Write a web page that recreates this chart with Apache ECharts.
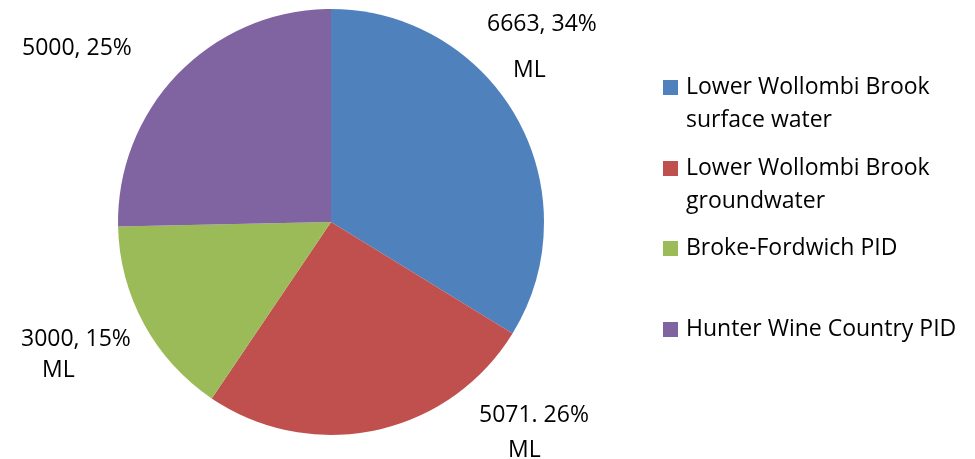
<!DOCTYPE html>
<html>
<head>
<meta charset="utf-8">
<script src="https://cdn.jsdelivr.net/npm/echarts@6/dist/echarts.min.js"></script>
<style>
  html, body { margin: 0; padding: 0; background: #fff; }
  #chart { width: 975px; height: 459px; }
</style>
</head>
<body>
<div id="chart"></div>
<script>
// data
const names = [
  'Lower Wollombi Brook surface water',
  'Lower Wollombi Brook groundwater',
  'Broke-Fordwich PID',
  'Hunter Wine Country PID'
];
const values = [6663, 5071, 3000, 5000];
const valueLabels = ['6663, 34%', '5071. 26%', '3000, 15%', '5000, 25%'];
const unitLabels = ['ML', 'ML', 'ML', ''];
const legendLines = [
  ['Lower Wollombi Brook', 'surface water'],
  ['Lower Wollombi Brook', 'groundwater'],
  ['Broke-Fordwich PID'],
  ['Hunter Wine Country PID']
];

const colors = ['#4F81BD', '#C0504D', '#9BBB59', '#8064A2'];
const FONT = '"Open Sans", sans-serif';
const FS = 23;

// where each slice label sits (left edge, top edge, line height, ML indent)
const labelPlace = [
  { x: 487, y: 1, lh: 46, indent: 26 },
  { x: 479, y: 398, lh: 35, indent: 29 },
  { x: 21, y: 324, lh: 31, indent: 21 },
  { x: 22, y: 35, lh: 26, indent: 0 }
];

const chart = echarts.init(document.getElementById('chart'));

// one legend per entry so each row can be placed like the original
const legendTops = [66, 147, 227, 308];
const legends = names.map((n, i) => ({
  data: [n],
  orient: 'vertical',
  left: 658,
  top: legendTops[i] - (legendLines[i].length > 1 ? 33 : 0),
  itemWidth: 15,
  itemHeight: 15,
  icon: 'rect',
  selectedMode: false,
  formatter: () => {
    const lines = legendLines[i];
    return lines.length > 1 ? '\u00a0\n' + lines.join('\n') : lines[0];
  },
  textStyle: {
    fontFamily: FONT,
    fontSize: FS,
    color: '#000',
    lineHeight: 33,
    padding: [0, 0, 0, 3]
  }
}));

const option = {
  animation: false,
  color: colors,
  legend: legends,
  series: [{
    type: 'pie',
    center: [331, 222],
    radius: 213,
    startAngle: 90,
    clockwise: true,
    silent: true,
    labelLine: { show: false },
    data: names.map((n, i) => ({
      name: n,
      value: values[i],
      label: {
        rich: {
          a: { fontFamily: FONT, fontSize: FS, color: '#000', lineHeight: labelPlace[i].lh },
          m: {
            fontFamily: FONT, fontSize: FS, color: '#000', lineHeight: labelPlace[i].lh,
            padding: [0, 0, 0, labelPlace[i].indent]
          }
        }
      }
    })),
    label: {
      show: true,
      position: 'outside',
      overflow: 'none',
      alignTo: 'none',
      formatter: p => {
        const u = unitLabels[p.dataIndex];
        return '{a|' + valueLabels[p.dataIndex] + '}' + (u ? '\n{m|' + u + '}' : '');
      }
    },
    labelLayout: p => ({
      x: labelPlace[p.dataIndex].x,
      y: labelPlace[p.dataIndex].y,
      align: 'left',
      verticalAlign: 'top'
    })
  }]
};

chart.setOption(option);
</script>
</body>
</html>
